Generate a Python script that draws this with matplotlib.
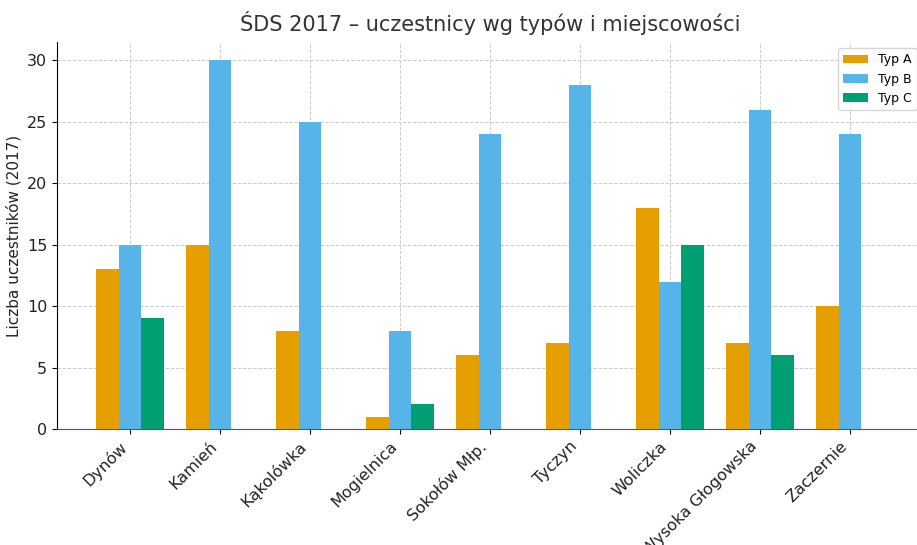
import matplotlib.pyplot as plt
import numpy as np

miejscowosci = ['Dynów', 'Kamień', 'Kąkolówka', 'Mogielnica', 'Sokołów Młp.',
                'Tyczyn', 'Woliczka', 'Wysoka Głogowska', 'Zaczernie']
typ_a = [13, 15, 8, 1, 6, 7, 18, 7, 10]
typ_b = [15, 30, 25, 8, 24, 28, 12, 26, 24]
typ_c = [9, 0, 0, 2, 0, 0, 15, 6, 0]

x = np.arange(len(miejscowosci))
w = 0.25

fig = plt.figure(figsize=(9.17, 5.45), dpi=100)
ax = fig.add_axes([57 / 917, 116 / 545, 866 / 917, 387 / 545])

ax.bar(x - w, typ_a, w, color='#E69F00', label='Typ A', zorder=3)
ax.bar(x, typ_b, w, color='#56B4E9', label='Typ B', zorder=3)
ax.bar(x + w, typ_c, w, color='#009E73', label='Typ C', zorder=3)

ax.set_xticks(x)
ax.set_xticklabels(miejscowosci, rotation=45, ha='right', fontsize=11.5, color='#222222')
ax.tick_params(axis='y', labelsize=11.5, labelcolor='#222222')
ax.set_ylabel('Liczba uczestników (2017)', fontsize=11, color='#222222')
ax.set_title('ŚDS 2017 – uczestnicy wg typów i miejscowości', fontsize=15, color='#333333', pad=8)

ax.grid(True, linestyle='--', color='#cccccc', linewidth=0.7, zorder=0)
ax.spines['top'].set_visible(False)
ax.spines['right'].set_visible(False)
ax.spines['bottom'].set_color('#555555')
ax.set_ylim(0, 31.5)
ax.set_xlim(-0.8125, 8.8125)

ax.legend(loc='upper right', fontsize=9, frameon=True)

fig.savefig('out.png', dpi=100)
